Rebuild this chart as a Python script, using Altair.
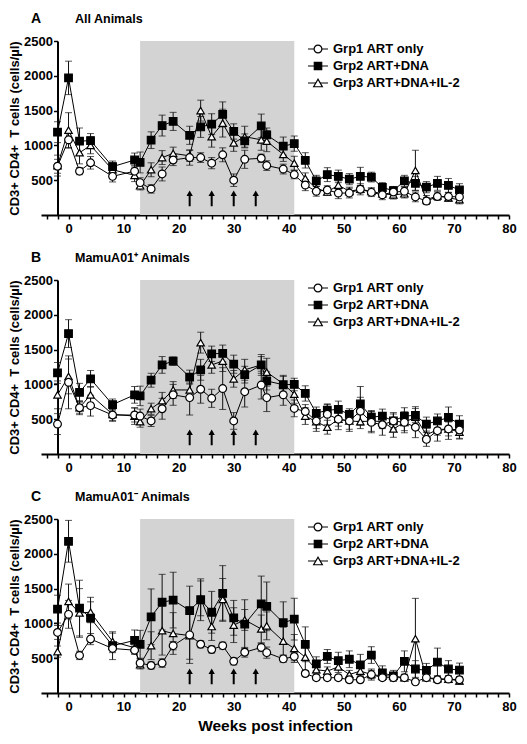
import altair as alt
import pandas as pd

# ---------------- data ----------------
weeks = [-2, 0, 2, 4, 8, 12, 13, 15, 17, 19, 22, 24, 26, 28, 30, 32, 35, 36, 39, 41,
         43, 45, 47, 49, 51, 53, 55, 57, 59, 61, 63, 65, 67, 69, 71]

groups = ["Grp1 ART only", "Grp2 ART+DNA", "Grp3 ART+DNA+IL-2"]

# Panel A: All animals
a_grp1 = [700, 1080, 630, 750, 555, 630, 465, 375, 590, 790, 825, 825, 745, 865, 500, 800, 815, 710, 660, 580,
          430, 340, 360, 315, 315, 370, 325, 290, 330, 340, 260, 200, 265, 265, 260]
a_grp1_err = [100, 120, 50, 90, 80, 80, 70, 60, 100, 80, 110, 70, 80, 100, 90, 130, 60, 70, 70, 60,
              80, 70, 60, 80, 70, 80, 60, 70, 60, 60, 70, 50, 50, 60, 60]
a_grp2 = [1190, 1970, 1060, 1070, 695, 790, 755, 1075, 1285, 1345, 1145, 1265, 1305, 1445, 1200, 1065, 1280, 1150, 990, 1025,
          785, 490, 580, 555, 515, 555, 545, 395, 350, 490, 455, 400, 455, 425, 360]
a_grp2_err = [150, 240, 190, 100, 80, 100, 150, 120, 150, 130, 130, 150, 150, 180, 110, 100, 170, 100, 130, 110,
              110, 80, 100, 90, 80, 130, 70, 70, 60, 80, 100, 80, 100, 100, 90]
a_grp3 = [710, 1220, 895, 1000, 650, 570, 420, 650, 825, 885, 850, 1500, 1125, 1320, 1035, 1125, 1080, 1060, 870, 745,
          525, 385, 330, 430, 340, 370, 340, 305, 290, 305, 640, 220, 275, 245, 220]
a_grp3_err = [150, 250, 160, 120, 100, 90, 60, 100, 100, 90, 80, 150, 150, 200, 120, 150, 150, 150, 100, 100,
              80, 60, 50, 60, 60, 50, 50, 50, 60, 60, 290, 60, 60, 50, 60]

# Panel B: MamuA01+ animals
b_grp1 = [430, 1030, 665, 695, 560, 560, 545, 475, 650, 850, 810, 930, 800, 940, 475, 895, 990, 810, 850, 655,
          610, 475, 570, 500, 475, 615, 455, 420, 475, 455, 385, 210, 335, 360, 345]
b_grp1_err = [150, 380, 80, 150, 80, 100, 100, 80, 150, 150, 250, 200, 130, 300, 120, 220, 200, 200, 150, 120,
              100, 150, 150, 150, 150, 200, 150, 150, 120, 150, 150, 100, 150, 150, 120]
b_grp2 = [1165, 1730, 885, 1080, 710, 850, 835, 1060, 1280, 1335, 1105, 1210, 1440, 1445, 1290, 1140, 1280, 1050, 995, 1000,
          870, 585, 630, 640, 570, 720, 530, 545, 475, 545, 555, 430, 475, 525, 430]
b_grp2_err = [150, 200, 130, 120, 80, 120, 140, 100, 120, 60, 100, 150, 110, 120, 130, 120, 120, 130, 120, 90,
              110, 90, 80, 120, 80, 250, 80, 100, 100, 120, 100, 100, 100, 150, 120]
b_grp3 = [850, 1115, 665, 850, 570, 545, 465, 650, 765, 920, 920, 1600, 1280, 1335, 1080, 1210, 1280, 1175, 1010, 860,
          545, 465, 385, 500, 475, 465, 475, 465, 360, 455, 530, 275, 350, 360, 315]
b_grp3_err = [200, 250, 100, 120, 100, 120, 80, 80, 120, 120, 100, 150, 120, 150, 120, 150, 150, 200, 120, 130,
              120, 100, 100, 100, 120, 100, 150, 100, 120, 120, 150, 100, 80, 100, 100]

# Panel C: MamuA01- animals
c_grp1 = [870, 1130, 540, 775, 640, 615, 430, 395, 430, 680, 835, 700, 625, 680, 455, 585, 655, 580, 490, 525,
          280, 220, 220, 220, 190, 190, 265, 220, 220, 220, 160, 220, 190, 200, 190]
c_grp1_err = [100, 200, 60, 80, 60, 60, 60, 50, 60, 60, 350, 50, 50, 50, 50, 70, 60, 80, 50, 60,
              40, 40, 40, 40, 40, 40, 60, 40, 40, 40, 30, 40, 40, 40, 40]
c_grp2 = [1205, 2180, 1220, 1075, 680, 755, 700, 1095, 1305, 1335, 1185, 1340, 1160, 1430, 1080, 990, 1280, 1245, 1010, 1060,
          700, 420, 525, 465, 485, 405, 545, 290, 245, 455, 345, 325, 445, 345, 330]
c_grp2_err = [200, 300, 400, 300, 200, 150, 200, 400, 400, 400, 350, 300, 300, 400, 250, 350, 400, 350, 300, 300,
              250, 100, 100, 120, 120, 150, 120, 100, 80, 150, 120, 100, 200, 120, 100]
c_grp3 = [595, 1315, 1150, 1160, 740, 650, 405, 680, 895, 855, 825, 1360, 955, 1345, 975, 1050, 920, 965, 745, 640,
          515, 335, 315, 375, 265, 315, 265, 245, 245, 220, 780, 220, 205, 200, 175]
c_grp3_err = [80, 250, 350, 150, 120, 80, 60, 200, 350, 300, 400, 250, 200, 300, 250, 150, 200, 200, 200, 200,
              200, 60, 60, 80, 60, 80, 80, 60, 50, 50, 580, 40, 40, 50, 50]

shade_start = [13]
shade_end = [41]
immunization_weeks = [22, 26, 30, 34]
x_tick_values = list(range(-4, 81, 2))
y_tick_values = [500, 1000, 1500, 2000, 2500]
x_domain = [-5, 80]
y_domain = [0, 2500]
y_axis_at_week = -2

# ---------------- layout / style ----------------
PANEL_W = 468
PANEL_H = 174
FONT = "Liberation Sans"
shapes = ["circle", "square", "triangle-up"]
fills = ["white", "black", "white"]
sizes = [60, 55, 75]


def long_df(series):
    rows = []
    # draw triangles first, then squares, circles on top
    for g, m, e in reversed(series):
        for t, v, s in zip(weeks, m, e):
            rows.append({"week": t, "group": g, "mean": v, "lo": v - s, "hi": v + s})
    return pd.DataFrame(rows)


px_per_week = PANEL_W / (x_domain[1] - x_domain[0])


def panel(df, letter, name, show_xtitle):
    xscale = alt.Scale(domain=x_domain, nice=False, zero=False)
    yscale = alt.Scale(domain=y_domain, nice=False, zero=False)
    xaxis_kw = dict(values=x_tick_values,
                    labelExpr="datum.value % 10 == 0 ? datum.label : ''",
                    tickSize=4, tickWidth=1.5, domainWidth=2, labelPadding=3,
                    labelFontSize=13, labelFlush=False)
    if show_xtitle:
        xaxis = alt.Axis(title="Weeks post infection", titleFontSize=15.5, titlePadding=5, **xaxis_kw)
    else:
        xaxis = alt.Axis(title="", **xaxis_kw)
    yaxis = alt.Axis(values=y_tick_values, format="d",
                     offset=-(y_axis_at_week - x_domain[0]) * px_per_week,
                     title="CD3+ CD4+\u00a0 T cells (cells/\u00b5l)", titleFontSize=13,
                     titleX=-43, titleY=PANEL_H / 2, titleBaseline="middle", titleAlign="center",
                     titleAngle=270,
                     labelPadding=1, tickSize=4, tickWidth=1.5, domainWidth=2, labelFontSize=13)

    def X(f):
        return alt.X(f, type="quantitative", scale=xscale, axis=xaxis)

    def Y(f):
        return alt.Y(f, type="quantitative", scale=yscale, axis=yaxis)

    shade = alt.Chart(pd.DataFrame({"start": shade_start, "end": shade_end})).mark_rect(
        color="#d3d3d3").encode(x=X("start"), x2="end", y=alt.value(0), y2=alt.value(PANEL_H))

    arrows_df = pd.DataFrame({"week": immunization_weeks})
    ay = PANEL_H * 0.875
    shafts = alt.Chart(arrows_df).mark_rule(color="black", strokeWidth=2).encode(
        x=X("week"), y=alt.value(ay + 2), y2=alt.value(ay + 13))
    heads = alt.Chart(arrows_df).mark_point(shape="triangle-up", filled=True, color="black",
                                            size=40, opacity=1).encode(x=X("week"), y=alt.value(ay))

    errs = alt.Chart(df).mark_errorbar(ticks=True, size=7, thickness=1, color="#111").encode(
        x=X("week"), y=Y("lo"), y2="hi", detail="group:N")
    lines = alt.Chart(df).mark_line(color="black", strokeWidth=1).encode(
        x=X("week"), y=Y("mean"), detail="group:N")
    pts = alt.Chart(df).mark_point(filled=True, stroke="black", strokeWidth=1.2, opacity=1).encode(
        x=X("week"), y=Y("mean"),
        shape=alt.Shape("group:N", scale=alt.Scale(domain=groups, range=shapes), legend=None),
        fill=alt.Fill("group:N", scale=alt.Scale(domain=groups, range=fills), legend=None),
        size=alt.Size("group:N", scale=alt.Scale(domain=groups, range=sizes), legend=None))

    legend_layers = []
    for i, g in enumerate(groups):
        ly = 8 + 17 * i
        ldf = pd.DataFrame({"label": [g]})
        legend_layers.append(alt.Chart(ldf).mark_rule(color="black", strokeWidth=1).encode(
            x=alt.value(267), x2=alt.value(287), y=alt.value(ly)))
        legend_layers.append(alt.Chart(ldf).mark_point(shape=shapes[i], filled=True, fill=fills[i],
                                                       stroke="black", strokeWidth=1.2, opacity=1,
                                                       size=sizes[i]).encode(
            x=alt.value(277), y=alt.value(ly)))
        legend_layers.append(alt.Chart(ldf).mark_text(align="left", baseline="middle", font=FONT,
                                                      fontSize=13, fontWeight="bold", color="black").encode(
            x=alt.value(292), y=alt.value(ly), text="label:N"))

    tdf1 = pd.DataFrame({"t": [letter]})
    tdf2 = pd.DataFrame({"t": [name]})
    t1 = alt.Chart(tdf1).mark_text(align="center", baseline="middle", font=FONT, fontSize=14,
                                   fontWeight="bold", color="black").encode(
        x=alt.value(-5), y=alt.value(-22), text="t:N")
    t2 = alt.Chart(tdf2).mark_text(align="left", baseline="middle", font=FONT, fontSize=12.5,
                                   fontWeight="bold", color="black").encode(
        x=alt.value(34), y=alt.value(-22), text="t:N")

    return alt.layer(shade, errs, lines, pts, shafts, heads, *legend_layers, t1, t2).properties(
        width=PANEL_W, height=PANEL_H)


dfA = long_df([(groups[0], a_grp1, a_grp1_err), (groups[1], a_grp2, a_grp2_err), (groups[2], a_grp3, a_grp3_err)])
dfB = long_df([(groups[0], b_grp1, b_grp1_err), (groups[1], b_grp2, b_grp2_err), (groups[2], b_grp3, b_grp3_err)])
dfC = long_df([(groups[0], c_grp1, c_grp1_err), (groups[1], c_grp2, c_grp2_err), (groups[2], c_grp3, c_grp3_err)])

pA = panel(dfA, "A", "All Animals", False)
pB = panel(dfB, "B", "MamuA01\u207a Animals", False)
pC = panel(dfC, "C", "MamuA01\u207b Animals", True)

chart = alt.vconcat(pA, pB, pC, spacing=65, bounds="flush").properties(
    padding={"left": 0, "top": 4, "right": 0, "bottom": 0}
).configure_axis(
    labelFont=FONT, labelFontWeight="bold", labelColor="black",
    titleFont=FONT, titleFontWeight="bold", titleColor="black",
    domainColor="black", tickColor="black", grid=False
).configure_view(strokeWidth=0)

chart.save("out.html", embed_options={"renderer": "svg", "actions": False})
